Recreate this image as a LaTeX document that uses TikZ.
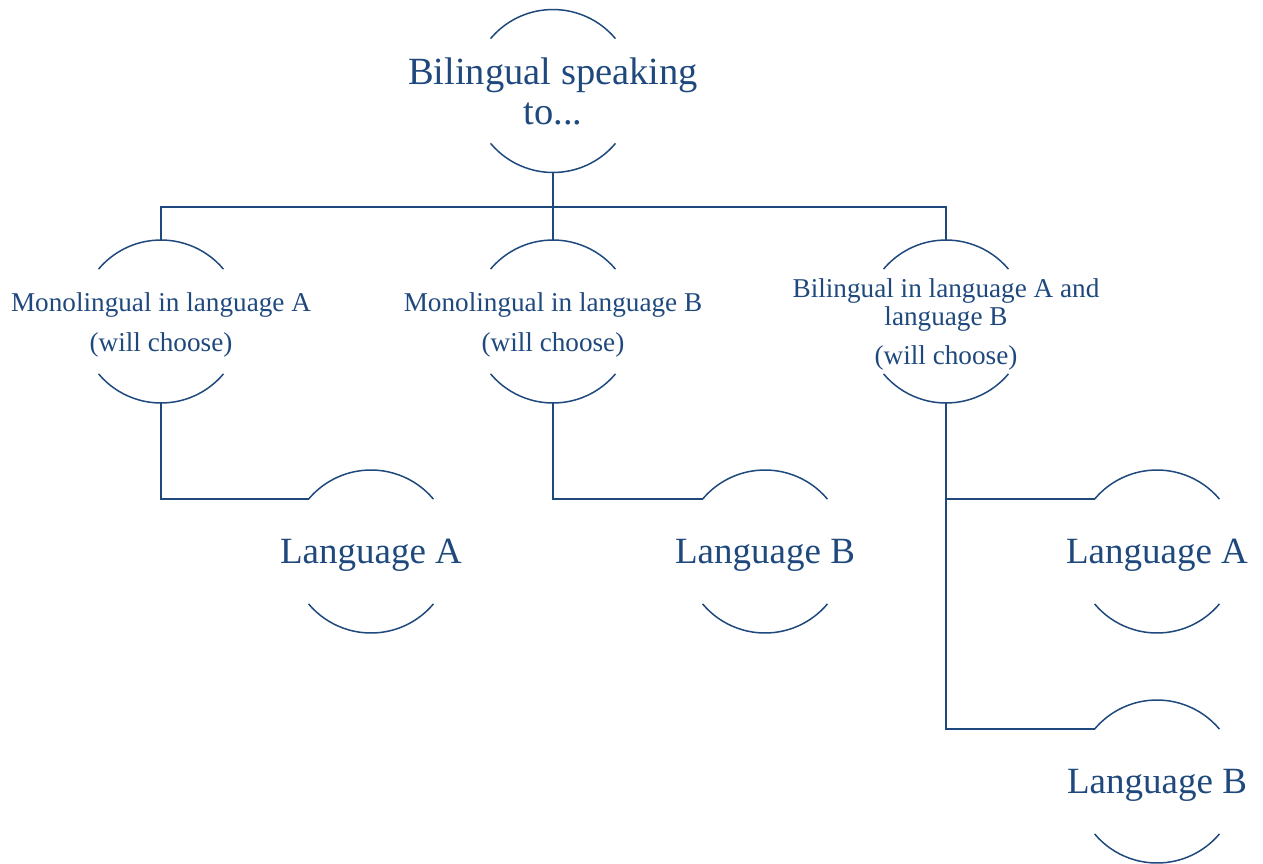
\documentclass[tikz,border=0pt]{standalone}
\usepackage{fontspec}
\setmainfont{Liberation Serif}
\usepackage{tikz}

\definecolor{navy}{HTML}{1F497D}

\tikzset{
    bubble/.style={circle, minimum size=163pt, inner sep=0pt, outer sep=0pt},
    bigtext/.style={text=navy, align=center, font=\fontsize{38.5}{40}\selectfont},
    leaftext/.style={text=navy, align=center, font=\fontsize{37}{40}\selectfont, yshift=-4pt},
    midtext/.style={text=navy, align=center, font=\fontsize{27.2}{27.5}\selectfont, yshift=-3pt},
    rim/.style={draw=navy, line width=1.5pt},
}

\begin{document}
\begin{tikzpicture}[x=1pt,y=1pt]
    \useasboundingbox (0,0) rectangle (1263,-863);

    \node[bubble, label={[bigtext]center:{Bilingual speaking\\to...}}] (top) at (553,-91) {};

    \node[bubble, label={[midtext]center:{Monolingual in language A\\[12.5pt](will choose)}}] (monoA) at (161,-321.5) {};
    \node[bubble, label={[midtext]center:{Monolingual in language B\\[12.5pt](will choose)}}] (monoB) at (553,-321.5) {};
    \node[bubble, label={[midtext]center:{Bilingual in language A and\\language B\\[11.5pt](will choose)}}] (bil) at (946,-321.5) {};

    \node[bubble, label={[leaftext]center:Language A}] (langA1) at (371,-551.5) {};
    \node[bubble, label={[leaftext]center:Language B}] (langB1) at (765,-551.5) {};
    \node[bubble, label={[leaftext]center:Language A}] (langA2) at (1157,-551.5) {};
    \node[bubble, label={[leaftext]center:Language B}] (langB2) at (1157,-781.5) {};

    \coordinate (bar) at (553,-207);

    % top and bottom rims of every bubble
    \foreach \n in {top,monoA,monoB,bil,langA1,langB1,langA2,langB2}{
        \draw[rim] (\n.40) arc[start angle=40, end angle=140, radius=81.5pt];
        \draw[rim] (\n.-140) arc[start angle=-140, end angle=-40, radius=81.5pt];
    }

    \draw[rim] (top.south) -- (bar);
    \draw[rim] (monoA.north) |- (bar) -| (bil.north);
    \draw[rim] (bar) -- (monoB.north);

    \draw[rim] (monoA.south) |- (langA1.140);
    \draw[rim] (monoB.south) |- (langB1.140);
    \draw[rim] (bil.south) |- (langA2.140);
    \draw[rim] (bil.south) |- (langB2.140);

\end{tikzpicture}
\end{document}
